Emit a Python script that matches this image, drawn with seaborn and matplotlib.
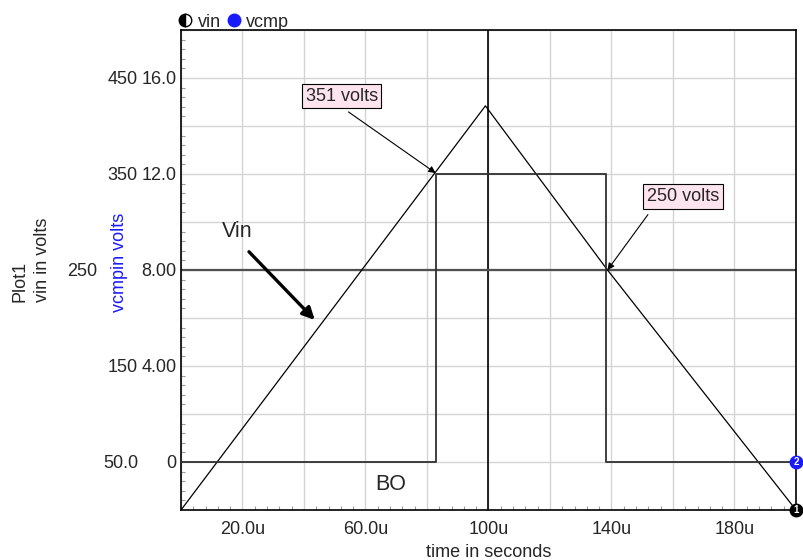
import numpy as np
import pandas as pd
import seaborn as sns
import matplotlib.pyplot as plt
from matplotlib.ticker import MultipleLocator
from matplotlib.lines import Line2D

# данные (время в микросекундах)
vin_t = [0, 99, 138.7, 200]
vin_v = [0, 421, 250, 0]
vcmp_t = [0, 82.8, 82.8, 138.2, 138.2, 200]
vcmp_v = [0, 0, 12.0, 12.0, 0, 0]

x_ticks = [20, 60, 100, 140, 180]
x_labels = ['20.0u', '60.0u', '100u', '140u', '180u']
vin_ticks = [50, 150, 250, 350, 450]
vin_labels = ['50.0', '150', '250', '350', '450']
vcmp_ticks = [0, 4, 8, 12, 16]
vcmp_labels = ['0', '4.00', '8.00', '12.0', '16.0']

sns.set_style('ticks')
plt.rcParams['font.family'] = ['Liberation Sans', 'DejaVu Sans']
plt.rcParams['font.size'] = 13

fig = plt.figure(figsize=(8.04, 5.6), dpi=100)
ax = fig.add_axes([181 / 804, 50 / 560, 615 / 804, 480 / 560])
ax2 = ax.twinx()

df_vin = pd.DataFrame({'t': vin_t, 'v': vin_v})
df_cmp = pd.DataFrame({'t': vcmp_t, 'v': vcmp_v})

# сетка и курсоры
ax.set_xlim(0, 200)
ax.set_ylim(0, 500)
ax2.set_ylim(-2, 18)
ax.set_xticks(np.arange(0, 201, 20))
ax.set_xticklabels([x_labels[x_ticks.index(v)] if v in x_ticks else '' for v in range(0, 201, 20)])
ax.set_yticks(np.arange(0, 501, 50))
ax.set_yticklabels([vin_labels[vin_ticks.index(v)] if v in vin_ticks else '' for v in range(0, 501, 50)])
ax.xaxis.set_minor_locator(MultipleLocator(4))
ax.yaxis.set_minor_locator(MultipleLocator(10))
ax.grid(True, which='major', color='#d4d4d4', lw=1)
ax.tick_params(which='both', direction='in', length=3, color='#999999', width=0.8)
ax.tick_params(axis='y', which='major', pad=31, length=0)
ax.tick_params(axis='x', which='major', pad=8, length=0)
for s in ax.spines.values():
    s.set_color('black')
    s.set_linewidth(1.2)

ax2.set_yticks(vcmp_ticks)
ax2.set_yticklabels(vcmp_labels)
ax2.yaxis.tick_left()
ax2.tick_params(axis='y', length=0, pad=3)
for s in ax2.spines.values():
    s.set_visible(False)

# "250" сдвинут влево, чтобы не налезать на подпись оси
for tick in ax.yaxis.get_major_ticks():
    if tick.label1.get_text() == '250':
        tick.label1.set_x(-41 / 615)

ax.axvline(100, color='black', lw=1.2, zorder=2)
ax.axhline(250, color='#505050', lw=1.6, zorder=2)

sns.lineplot(data=df_vin, x='t', y='v', ax=ax, estimator=None, sort=False,
             color='black', lw=0.9, zorder=3)
sns.lineplot(data=df_cmp, x='t', y='v', ax=ax2, estimator=None, sort=False,
             color='#303030', lw=1.3, zorder=3)

ax.set_xlabel('time in seconds', labelpad=4)
ax.set_ylabel('')
ax2.set_ylabel('')

fig.text(20 / 804, 1 - 281 / 560, 'Plot1', rotation=90, ha='center', va='center')
fig.text(43 / 804, 1 - 260 / 560, 'vin in volts', rotation=90, ha='center', va='center')
fig.text(120 / 804, 1 - 262 / 560, 'vcmpin volts', rotation=90, ha='center', va='center',
         color='#1a1aff')

# маркеры на концах кривых
ax.plot(200, 0, 'o', ms=9, color='black', clip_on=False, zorder=6)
ax.text(200, 0, '1', color='white', ha='center', va='center', fontsize=7,
        fontweight='bold', zorder=7, clip_on=False)
ax2.plot(200, 0, 'o', ms=9, color='#1a1aff', clip_on=False, zorder=6)
ax2.text(200, 0, '2', color='white', ha='center', va='center', fontsize=7,
         fontweight='bold', zorder=7, clip_on=False)

# легенда
handles = [Line2D([], [], marker='o', ls='', ms=9, color='black', fillstyle='left',
                  markerfacecoloralt='white', markeredgecolor='black'),
           Line2D([], [], marker='o', ls='', ms=9, color='#1a1aff')]
ax.legend(handles, ['vin', 'vcmp'], loc='lower left', bbox_to_anchor=(-0.005, 0.995),
          ncol=2, frameon=False, handlelength=0.6, handletextpad=0.4,
          columnspacing=0.4, borderaxespad=0, borderpad=0.1)

# аннотации
box = dict(boxstyle='square,pad=0.2', fc='#fde4ee', ec='black', lw=0.8)
ax.annotate('351 volts', xy=(82.8, 351), xytext=(52.3, 431), ha='center', va='center',
            bbox=box, arrowprops=dict(arrowstyle='-|>', color='black', lw=0.8,
                                       relpos=(0.45, 0), shrinkA=4, shrinkB=0,
                                       mutation_scale=10))
ax.annotate('250 volts', xy=(138.7, 250), xytext=(163.3, 326.6), ha='center', va='center',
            bbox=box, arrowprops=dict(arrowstyle='-|>', color='black', lw=0.8,
                                       relpos=(0.11, 0), shrinkA=5, shrinkB=0,
                                       mutation_scale=10))
ax.annotate('Vin', xy=(43.5, 198), xytext=(18.2, 289.6), ha='center', va='center',
            fontsize=15.5, arrowprops=dict(arrowstyle='-|>', color='black', lw=2.4,
                                            relpos=(0.6, 0), shrinkA=6, shrinkB=0,
                                            mutation_scale=18))
ax.text(68.2, 27, 'BO', ha='center', va='center', fontsize=15.5)

fig.savefig('out.png', dpi=100)
